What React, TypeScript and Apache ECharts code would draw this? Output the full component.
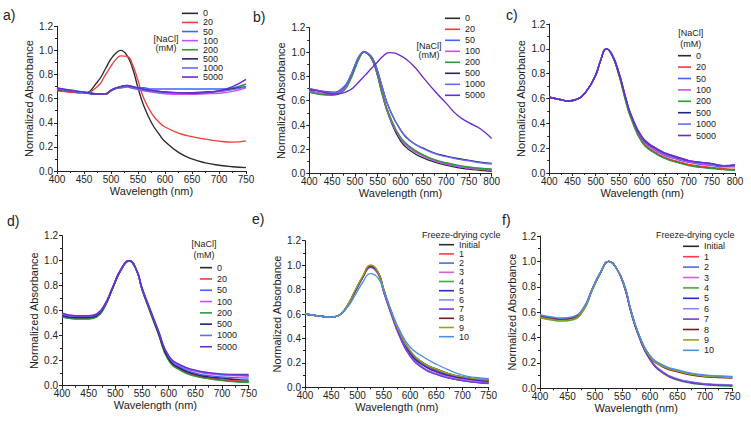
import React, { useEffect, useRef } from 'react';
import * as echarts from 'echarts';

const FONT = '"Liberation Sans", Arial, Helvetica, sans-serif';
const INK = '#222222';

// ---------- category names / colors ----------
const NACL_NAMES = ['0', '20', '50', '100', '200', '500', '1000', '5000'];
const NACL_COLORS = ['#2b2b2b', '#f03c3c', '#3c64ff', '#c850f0', '#2e9a3a', '#22227a', '#6a6af0', '#6a2ad0'];
const CYCLE_NAMES = ['Initial', '1', '2', '3', '4', '5', '6', '7', '8', '9', '10'];
const CYCLE_COLORS = ['#2b2b2b', '#ff3b4a', '#4a6ee0', '#d860e0', '#3cb043', '#2a2ac8', '#8a86ff', '#7a3ad8', '#7a1a1a', '#9aa020', '#4a90e8'];

const Y_TICKS = [0, 0.2, 0.4, 0.6, 0.8, 1.0, 1.2];

// ---------- panel a ----------
const WL_A = [400, 425, 450, 475, 490, 500, 510, 518, 530, 540, 550, 560, 575, 590, 600, 625, 650, 675, 700, 725, 750];
const A_0 = [0.67, 0.655, 0.648, 0.74, 0.85, 0.93, 0.98, 1.0, 0.955, 0.85, 0.69, 0.55, 0.40, 0.30, 0.245, 0.155, 0.10, 0.068, 0.048, 0.035, 0.028];
const A_20 = [0.665, 0.655, 0.65, 0.70, 0.80, 0.87, 0.93, 0.955, 0.95, 0.88, 0.75, 0.61, 0.48, 0.40, 0.365, 0.315, 0.285, 0.265, 0.248, 0.24, 0.25];
const A_50 = [0.69, 0.67, 0.655, 0.64, 0.64, 0.67, 0.69, 0.70, 0.71, 0.70, 0.69, 0.69, 0.68, 0.68, 0.68, 0.68, 0.68, 0.68, 0.68, 0.69, 0.72];
const A_100 = [0.68, 0.665, 0.65, 0.635, 0.64, 0.665, 0.685, 0.69, 0.695, 0.685, 0.675, 0.665, 0.655, 0.645, 0.64, 0.635, 0.635, 0.64, 0.645, 0.66, 0.69];
const A_200 = [0.68, 0.665, 0.65, 0.635, 0.64, 0.665, 0.685, 0.69, 0.70, 0.69, 0.68, 0.67, 0.66, 0.655, 0.65, 0.645, 0.645, 0.65, 0.66, 0.68, 0.72];
const A_500 = [0.685, 0.665, 0.65, 0.64, 0.64, 0.67, 0.69, 0.70, 0.705, 0.695, 0.685, 0.675, 0.665, 0.66, 0.655, 0.65, 0.65, 0.655, 0.665, 0.68, 0.70];
const A_1000 = [0.685, 0.665, 0.65, 0.64, 0.64, 0.665, 0.685, 0.695, 0.70, 0.69, 0.68, 0.67, 0.66, 0.655, 0.65, 0.645, 0.645, 0.65, 0.66, 0.675, 0.70];
const A_5000 = [0.69, 0.67, 0.655, 0.64, 0.64, 0.67, 0.69, 0.70, 0.71, 0.70, 0.69, 0.68, 0.67, 0.66, 0.655, 0.65, 0.645, 0.65, 0.665, 0.70, 0.76];

// ---------- panel b ----------
const WL_B = [400, 425, 450, 475, 490, 500, 510, 520, 530, 540, 550, 560, 575, 600, 625, 650, 675, 700, 725, 750, 775, 800];
const B_0 = [0.67, 0.655, 0.65, 0.69, 0.78, 0.87, 0.96, 1.0, 0.98, 0.92, 0.80, 0.65, 0.47, 0.27, 0.18, 0.13, 0.095, 0.07, 0.05, 0.037, 0.028, 0.02];
const B_20 = [0.69, 0.66, 0.655, 0.70, 0.79, 0.88, 0.96, 1.0, 0.98, 0.92, 0.81, 0.66, 0.48, 0.29, 0.20, 0.15, 0.11, 0.085, 0.065, 0.05, 0.04, 0.035];
const B_50 = [0.68, 0.66, 0.66, 0.70, 0.79, 0.88, 0.96, 1.0, 0.98, 0.92, 0.81, 0.66, 0.48, 0.29, 0.20, 0.15, 0.11, 0.08, 0.06, 0.047, 0.037, 0.03];
const B_100 = [0.68, 0.66, 0.655, 0.69, 0.78, 0.87, 0.96, 1.0, 0.98, 0.92, 0.81, 0.66, 0.48, 0.29, 0.20, 0.145, 0.105, 0.08, 0.06, 0.046, 0.036, 0.03];
const B_200 = [0.67, 0.65, 0.645, 0.68, 0.77, 0.86, 0.95, 1.0, 0.98, 0.92, 0.81, 0.66, 0.49, 0.30, 0.21, 0.155, 0.115, 0.09, 0.07, 0.055, 0.045, 0.04];
const B_500 = [0.70, 0.68, 0.67, 0.71, 0.80, 0.89, 0.97, 1.0, 0.985, 0.94, 0.84, 0.71, 0.54, 0.36, 0.26, 0.21, 0.17, 0.145, 0.125, 0.11, 0.095, 0.085];
const B_1000 = [0.70, 0.68, 0.665, 0.71, 0.80, 0.89, 0.97, 1.0, 0.985, 0.94, 0.84, 0.71, 0.54, 0.36, 0.26, 0.205, 0.165, 0.14, 0.12, 0.105, 0.09, 0.08];
const B_5000 = [0.69, 0.675, 0.655, 0.665, 0.69, 0.72, 0.76, 0.80, 0.84, 0.88, 0.92, 0.96, 0.995, 0.97, 0.90, 0.79, 0.68, 0.58, 0.48, 0.42, 0.37, 0.29];

// ---------- panel c ----------
const WL_C = [400, 425, 440, 460, 480, 500, 510, 523, 535, 550, 565, 575, 600, 625, 650, 675, 700, 725, 750, 775, 800];
const C_0 = [0.61, 0.59, 0.58, 0.595, 0.66, 0.79, 0.90, 1.0, 0.95, 0.79, 0.58, 0.46, 0.25, 0.17, 0.12, 0.09, 0.065, 0.05, 0.04, 0.03, 0.025];
const C_20 = [0.61, 0.59, 0.58, 0.595, 0.66, 0.79, 0.90, 1.0, 0.95, 0.79, 0.58, 0.46, 0.255, 0.175, 0.125, 0.095, 0.07, 0.055, 0.045, 0.035, 0.03];
const C_50 = [0.61, 0.59, 0.58, 0.595, 0.66, 0.79, 0.90, 1.0, 0.95, 0.80, 0.59, 0.47, 0.27, 0.19, 0.14, 0.11, 0.085, 0.07, 0.06, 0.05, 0.05];
const C_100 = [0.61, 0.59, 0.58, 0.595, 0.66, 0.79, 0.90, 1.0, 0.95, 0.80, 0.59, 0.47, 0.27, 0.195, 0.145, 0.115, 0.09, 0.075, 0.065, 0.055, 0.055];
const C_200 = [0.61, 0.59, 0.58, 0.595, 0.66, 0.79, 0.90, 1.0, 0.95, 0.79, 0.57, 0.45, 0.245, 0.165, 0.115, 0.085, 0.06, 0.045, 0.035, 0.028, 0.022];
const C_500 = [0.61, 0.59, 0.58, 0.595, 0.66, 0.79, 0.90, 1.0, 0.955, 0.80, 0.60, 0.48, 0.28, 0.205, 0.155, 0.125, 0.10, 0.085, 0.075, 0.06, 0.065];
const C_1000 = [0.61, 0.59, 0.58, 0.595, 0.66, 0.79, 0.90, 1.0, 0.955, 0.81, 0.60, 0.48, 0.285, 0.21, 0.16, 0.13, 0.10, 0.085, 0.075, 0.058, 0.065];
const C_5000 = [0.61, 0.59, 0.58, 0.595, 0.66, 0.79, 0.90, 1.0, 0.955, 0.81, 0.60, 0.48, 0.29, 0.21, 0.16, 0.13, 0.10, 0.085, 0.075, 0.055, 0.065];

// ---------- panel d ----------
const WL_D = [400, 425, 450, 465, 480, 495, 510, 526, 540, 550, 565, 580, 600, 625, 650, 675, 700, 725, 750];
const D_0 = [0.55, 0.535, 0.535, 0.55, 0.63, 0.78, 0.92, 1.0, 0.92, 0.77, 0.60, 0.43, 0.21, 0.12, 0.08, 0.06, 0.045, 0.035, 0.03];
const D_20 = [0.555, 0.54, 0.54, 0.555, 0.635, 0.78, 0.92, 1.0, 0.92, 0.77, 0.60, 0.43, 0.21, 0.125, 0.085, 0.065, 0.05, 0.04, 0.035];
const D_50 = [0.565, 0.545, 0.545, 0.56, 0.64, 0.785, 0.925, 1.0, 0.92, 0.775, 0.60, 0.435, 0.22, 0.14, 0.10, 0.08, 0.07, 0.065, 0.06];
const D_100 = [0.57, 0.55, 0.55, 0.565, 0.64, 0.785, 0.925, 1.0, 0.92, 0.78, 0.61, 0.44, 0.23, 0.15, 0.115, 0.095, 0.085, 0.08, 0.075];
const D_200 = [0.55, 0.535, 0.535, 0.55, 0.63, 0.78, 0.92, 1.0, 0.92, 0.77, 0.59, 0.42, 0.20, 0.115, 0.075, 0.055, 0.04, 0.03, 0.025];
const D_500 = [0.56, 0.545, 0.545, 0.56, 0.64, 0.78, 0.92, 1.0, 0.92, 0.775, 0.60, 0.43, 0.215, 0.13, 0.09, 0.07, 0.06, 0.05, 0.045];
const D_1000 = [0.575, 0.555, 0.555, 0.57, 0.645, 0.79, 0.925, 1.0, 0.92, 0.78, 0.61, 0.445, 0.235, 0.155, 0.12, 0.10, 0.09, 0.085, 0.08];
const D_5000 = [0.58, 0.56, 0.56, 0.575, 0.65, 0.79, 0.93, 1.0, 0.925, 0.785, 0.615, 0.45, 0.24, 0.16, 0.125, 0.105, 0.095, 0.09, 0.09];

// ---------- panel e ----------
const WL_E = [400, 425, 450, 465, 480, 495, 510, 525, 540, 550, 565, 580, 600, 625, 650, 675, 700, 725, 750];
const E_INIT = [0.60, 0.585, 0.575, 0.59, 0.66, 0.78, 0.90, 0.995, 0.93, 0.79, 0.60, 0.43, 0.27, 0.16, 0.11, 0.075, 0.055, 0.04, 0.03];
const E_1 = [0.60, 0.585, 0.575, 0.59, 0.66, 0.78, 0.90, 0.99, 0.93, 0.79, 0.60, 0.44, 0.28, 0.18, 0.125, 0.09, 0.07, 0.055, 0.045];
const E_2 = [0.60, 0.585, 0.575, 0.59, 0.66, 0.78, 0.90, 0.985, 0.93, 0.80, 0.61, 0.45, 0.29, 0.19, 0.14, 0.10, 0.08, 0.065, 0.055];
const E_3 = [0.60, 0.585, 0.575, 0.59, 0.66, 0.78, 0.90, 0.98, 0.92, 0.78, 0.59, 0.42, 0.26, 0.16, 0.11, 0.08, 0.06, 0.05, 0.04];
const E_4 = [0.60, 0.585, 0.575, 0.59, 0.665, 0.785, 0.905, 1.0, 0.935, 0.80, 0.61, 0.45, 0.30, 0.20, 0.15, 0.11, 0.085, 0.07, 0.06];
const E_5 = [0.60, 0.585, 0.575, 0.59, 0.66, 0.78, 0.90, 0.99, 0.93, 0.79, 0.60, 0.44, 0.28, 0.18, 0.13, 0.095, 0.075, 0.06, 0.05];
const E_6 = [0.60, 0.585, 0.575, 0.59, 0.66, 0.78, 0.90, 0.985, 0.925, 0.78, 0.59, 0.42, 0.26, 0.16, 0.11, 0.08, 0.06, 0.045, 0.035];
const E_7 = [0.60, 0.585, 0.575, 0.59, 0.66, 0.78, 0.90, 0.985, 0.925, 0.78, 0.59, 0.42, 0.255, 0.155, 0.105, 0.075, 0.055, 0.04, 0.035];
const E_8 = [0.60, 0.585, 0.575, 0.59, 0.665, 0.785, 0.905, 0.995, 0.935, 0.80, 0.61, 0.45, 0.30, 0.20, 0.15, 0.11, 0.085, 0.07, 0.06];
const E_9 = [0.60, 0.585, 0.575, 0.59, 0.665, 0.79, 0.91, 1.0, 0.935, 0.80, 0.61, 0.45, 0.30, 0.20, 0.15, 0.11, 0.085, 0.07, 0.06];
const E_10 = [0.605, 0.585, 0.575, 0.59, 0.65, 0.75, 0.86, 0.93, 0.89, 0.79, 0.62, 0.47, 0.33, 0.25, 0.19, 0.14, 0.10, 0.08, 0.07];

// ---------- panel f ----------
const WL_F = [400, 425, 440, 460, 480, 495, 510, 525, 540, 555, 565, 580, 600, 625, 650, 675, 700, 725, 750];
const F_INIT = [0.565, 0.545, 0.54, 0.55, 0.63, 0.78, 0.91, 1.0, 0.94, 0.79, 0.62, 0.42, 0.25, 0.17, 0.135, 0.11, 0.095, 0.09, 0.085];
const F_1 = [0.56, 0.54, 0.535, 0.545, 0.625, 0.775, 0.91, 1.0, 0.94, 0.78, 0.61, 0.41, 0.23, 0.12, 0.07, 0.045, 0.032, 0.025, 0.02];
const F_2 = [0.57, 0.55, 0.545, 0.555, 0.635, 0.78, 0.91, 1.0, 0.94, 0.79, 0.62, 0.42, 0.255, 0.175, 0.14, 0.115, 0.10, 0.095, 0.09];
const F_3 = [0.565, 0.545, 0.54, 0.55, 0.63, 0.775, 0.91, 1.0, 0.94, 0.78, 0.61, 0.41, 0.23, 0.125, 0.075, 0.05, 0.035, 0.028, 0.024];
const F_4 = [0.555, 0.535, 0.53, 0.54, 0.62, 0.77, 0.905, 1.0, 0.94, 0.78, 0.61, 0.41, 0.225, 0.115, 0.065, 0.04, 0.028, 0.02, 0.015];
const F_5 = [0.565, 0.545, 0.54, 0.55, 0.63, 0.78, 0.91, 1.0, 0.94, 0.78, 0.61, 0.41, 0.23, 0.12, 0.07, 0.045, 0.032, 0.026, 0.022];
const F_6 = [0.575, 0.555, 0.55, 0.56, 0.64, 0.785, 0.915, 1.0, 0.94, 0.785, 0.615, 0.415, 0.235, 0.125, 0.075, 0.05, 0.036, 0.03, 0.026];
const F_7 = [0.57, 0.55, 0.545, 0.555, 0.635, 0.78, 0.91, 1.0, 0.94, 0.78, 0.61, 0.41, 0.23, 0.12, 0.07, 0.046, 0.033, 0.027, 0.023];
const F_8 = [0.565, 0.545, 0.54, 0.55, 0.63, 0.78, 0.91, 1.0, 0.94, 0.79, 0.62, 0.42, 0.25, 0.165, 0.13, 0.105, 0.09, 0.085, 0.08];
const F_9 = [0.56, 0.54, 0.535, 0.545, 0.625, 0.775, 0.91, 1.0, 0.94, 0.79, 0.62, 0.42, 0.25, 0.17, 0.135, 0.11, 0.095, 0.09, 0.085];
const F_10 = [0.58, 0.56, 0.555, 0.565, 0.64, 0.785, 0.915, 1.0, 0.94, 0.79, 0.625, 0.425, 0.26, 0.18, 0.145, 0.12, 0.105, 0.098, 0.093];

// ---------- layout (pixel geometry of each panel) ----------
type Panel = {
  label: string;
  wl: number[];
  series: number[][];
  names: string[];
  colors: string[];
  xMax: number;
  grid: { left: number; top: number; width: number; height: number };
  labelPos: [number, number];
  legend: { left: number; top: number; lineHeight: number; itemWidth: number };
  header: { lines: string[]; x: number; y: number[]; align: 'left' | 'center' };
};

const PANELS: Panel[] = [
  {
    label: 'a)', wl: WL_A, series: [A_0, A_20, A_50, A_100, A_200, A_500, A_1000, A_5000],
    names: NACL_NAMES, colors: NACL_COLORS, xMax: 750,
    grid: { left: 57, top: 26.3, width: 189, height: 144.7 },
    labelPos: [3, 15],
    legend: { left: 182, top: 8.8, lineHeight: 9.1, itemWidth: 16 },
    header: { lines: ['[NaCl]', '(mM)'], x: 166, y: [38.5, 47.5], align: 'center' },
  },
  {
    label: 'b)', wl: WL_B, series: [B_0, B_20, B_50, B_100, B_200, B_500, B_1000, B_5000],
    names: NACL_NAMES, colors: NACL_COLORS, xMax: 800,
    grid: { left: 309.3, top: 27.7, width: 182.4, height: 146 },
    labelPos: [253, 17],
    legend: { left: 445, top: 12.8, lineHeight: 11, itemWidth: 15 },
    header: { lines: ['[NaCl]', '(mM)'], x: 429, y: [45.7, 55], align: 'center' },
  },
  {
    label: 'c)', wl: WL_C, series: [C_0, C_20, C_50, C_100, C_200, C_500, C_1000, C_5000],
    names: NACL_NAMES, colors: NACL_COLORS, xMax: 800,
    grid: { left: 549.3, top: 24, width: 185.7, height: 149 },
    labelPos: [506, 14.5],
    legend: { left: 678, top: 50, lineHeight: 11.4, itemWidth: 13 },
    header: { lines: ['[NaCl]', '(mM)'], x: 690.7, y: [32.7, 44], align: 'center' },
  },
  {
    label: 'd)', wl: WL_D, series: [D_0, D_20, D_50, D_100, D_200, D_500, D_1000, D_5000],
    names: NACL_NAMES, colors: NACL_COLORS, xMax: 750,
    grid: { left: 62, top: 235.7, width: 186.7, height: 150 },
    labelPos: [7, 221],
    legend: { left: 200, top: 262, lineHeight: 11.3, itemWidth: 12 },
    header: { lines: ['[NaCl]', '(mM)'], x: 204, y: [244, 255], align: 'center' },
  },
  {
    label: 'e)', wl: WL_E, series: [E_INIT, E_1, E_2, E_3, E_4, E_5, E_6, E_7, E_8, E_9, E_10],
    names: CYCLE_NAMES, colors: CYCLE_COLORS, xMax: 750,
    grid: { left: 305, top: 240.7, width: 183.7, height: 146.6 },
    labelPos: [252, 218.5],
    legend: { left: 439, top: 240.1, lineHeight: 9.2, itemWidth: 15 },
    header: { lines: ['Freeze-drying cycle'], x: 422, y: [235.3], align: 'left' },
  },
  {
    label: 'f)', wl: WL_F, series: [F_INIT, F_1, F_2, F_3, F_4, F_5, F_6, F_7, F_8, F_9, F_10],
    names: CYCLE_NAMES, colors: CYCLE_COLORS, xMax: 750,
    grid: { left: 540, top: 236, width: 192.3, height: 152.3 },
    labelPos: [502, 220],
    legend: { left: 683, top: 241.1, lineHeight: 10.4, itemWidth: 16 },
    header: { lines: ['Freeze-drying cycle'], x: 656, y: [235.3], align: 'left' },
  },
];

function buildOption() {
  const grid: any[] = [];
  const xAxis: any[] = [];
  const yAxis: any[] = [];
  const series: any[] = [];
  const legend: any[] = [];
  const graphic: any[] = [];

  PANELS.forEach((p, i) => {
    grid.push({ ...p.grid, containLabel: false, outerBoundsMode: 'none' });
    xAxis.push({
      type: 'value', gridIndex: i, min: 400, max: p.xMax, interval: 50,
      name: 'Wavelength (nm)', nameLocation: 'middle', nameGap: 14,
      nameTextStyle: { fontSize: 11, color: INK, fontFamily: FONT },
      axisLine: { show: true, onZero: false, lineStyle: { color: INK, width: 1 } },
      axisTick: { show: true, inside: false, length: 3, lineStyle: { color: INK, width: 1 } },
      minorTick: { show: true, splitNumber: 2, length: 2, lineStyle: { color: INK, width: 1 } },
      axisLabel: { fontSize: 10, color: INK, margin: 3, fontFamily: FONT, showMaxLabel: true, showMinLabel: true },
      splitLine: { show: false },
    });
    yAxis.push({
      type: 'value', gridIndex: i, min: Y_TICKS[0], max: Y_TICKS[Y_TICKS.length - 1], interval: 0.2,
      name: 'Normalized Absorbance', nameLocation: 'middle', nameGap: 23, nameRotate: 90,
      nameTextStyle: { fontSize: 11, color: INK, fontFamily: FONT },
      axisLine: { show: true, onZero: false, lineStyle: { color: INK, width: 1 } },
      axisTick: { show: true, inside: false, length: 3, lineStyle: { color: INK, width: 1 } },
      minorTick: { show: true, splitNumber: 2, length: 2, lineStyle: { color: INK, width: 1 } },
      axisLabel: { fontSize: 10, color: INK, margin: 4, fontFamily: FONT, formatter: (v: number) => v.toFixed(1) },
      splitLine: { show: false },
    });
    p.series.forEach((vals, k) => {
      series.push({
        type: 'line', name: p.names[k], xAxisIndex: i, yAxisIndex: i,
        data: p.wl.map((w, j) => [w, vals[j]]),
        smooth: 0.5, showSymbol: false, symbol: 'none',
        lineStyle: { width: 1.35, color: p.colors[k] },
        itemStyle: { color: p.colors[k] },
        emphasis: { disabled: true }, silent: true,
      });
    });
    legend.push({
      orient: 'vertical', left: p.legend.left, top: p.legend.top, padding: 0,
      itemGap: 0, itemWidth: p.legend.itemWidth, itemHeight: 1.6, icon: 'rect',
      selectedMode: false, data: p.names,
      textStyle: { fontSize: 9, color: INK, fontFamily: FONT, lineHeight: p.legend.lineHeight },
    });
    graphic.push({
      type: 'text', x: p.labelPos[0], y: p.labelPos[1],
      style: { text: p.label, fontSize: 14, fill: INK, fontFamily: FONT, align: 'left', verticalAlign: 'middle' },
    });
    p.header.lines.forEach((t, k) => {
      graphic.push({
        type: 'text', x: p.header.x, y: p.header.y[k],
        style: { text: t, fontSize: 9, fill: INK, fontFamily: FONT, align: p.header.align, verticalAlign: 'middle' },
      });
    });
  });

  return {
    animation: false,
    backgroundColor: '#ffffff',
    textStyle: { fontFamily: FONT },
    grid, xAxis, yAxis, series, legend, graphic,
  };
}

export default function App() {
  const ref = useRef<HTMLDivElement>(null);
  useEffect(() => {
    const chart = echarts.init(ref.current!, null, { renderer: 'svg' });
    chart.setOption(buildOption() as any);
    return () => chart.dispose();
  }, []);
  return (
    <div
      ref={ref}
      style={{ position: 'fixed', left: 0, top: 0, width: 751, height: 423, background: '#ffffff' }}
    />
  );
}
